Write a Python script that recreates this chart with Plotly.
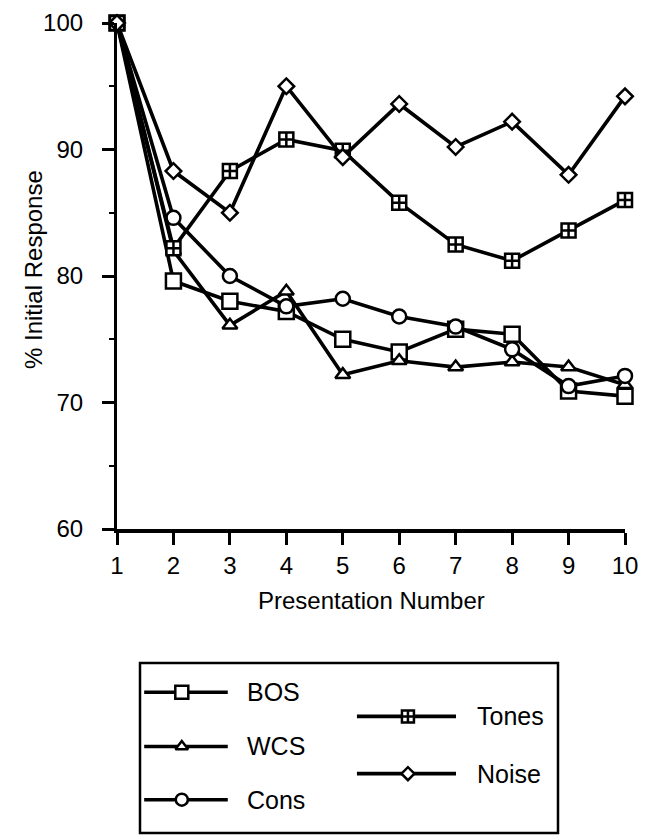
import plotly.graph_objects as go

# Presentation number (x) and % initial response for each stimulus class
presentation = [1, 2, 3, 4, 5, 6, 7, 8, 9, 10]
bos = [100, 79.6, 78.0, 77.2, 75.0, 74.0, 75.8, 75.4, 70.9, 70.5]
wcs = [100, 82.0, 76.1, 78.8, 72.2, 73.3, 72.8, 73.2, 72.8, 71.4]
cons = [100, 84.6, 80.0, 77.6, 78.2, 76.8, 76.0, 74.2, 71.3, 72.1]
tones = [100, 82.2, 88.3, 90.8, 89.9, 85.8, 82.5, 81.2, 83.6, 86.0]
noise = [100, 88.3, 85.0, 95.0, 89.4, 93.6, 90.2, 92.2, 88.0, 94.2]

y_ticks = [60, 70, 80, 90, 100]
x_ticks = presentation

W, H = 655, 835
FONT = "Liberation Sans, Arial, Helvetica, sans-serif"
LW = 3.6

series = [
    ("BOS", bos, "square", 15),
    ("WCS", wcs, "triangle-up", 13),
    ("Cons", cons, "circle", 14),
    ("Tones", tones, "square-cross", 14),
    ("Noise", noise, "diamond", 12),
]

fig = go.Figure()
for name, vals, sym, size in series:
    fig.add_trace(go.Scatter(
        x=presentation, y=vals, mode="lines+markers", name=name,
        line=dict(color="black", width=LW),
        marker=dict(symbol=sym, size=size, color="white",
                    line=dict(color="black", width=2.5)),
        cliponaxis=False, showlegend=False,
    ))

# Hand-built key in its own box (second axis pair, unit ranges)
key_rows = [
    ("BOS", "square", 13, 0.01, 0.21, 0.10, 0.828, 0.251),
    ("WCS", "triangle-up", 11, 0.01, 0.21, 0.10, 0.509, 0.251),
    ("Cons", "circle", 12, 0.01, 0.21, 0.10, 0.196, 0.251),
    ("Tones", "square-cross", 12, 0.519, 0.756, 0.641, 0.686, 0.801),
    ("Noise", "diamond", 10, 0.519, 0.756, 0.641, 0.349, 0.801),
]
for name, sym, size, x0, x1, xm, yk, xt in key_rows:
    fig.add_trace(go.Scatter(
        x=[x0, x1], y=[yk, yk], mode="lines", xaxis="x2", yaxis="y2",
        line=dict(color="black", width=LW), showlegend=False, hoverinfo="skip"))
    fig.add_trace(go.Scatter(
        x=[xm], y=[yk], mode="markers", xaxis="x2", yaxis="y2",
        marker=dict(symbol=sym, size=size, color="white",
                    line=dict(color="black", width=2.5)),
        showlegend=False, hoverinfo="skip"))
    fig.add_annotation(x=xt, y=yk, xref="x2", yref="y2", text=name,
                       showarrow=False, xanchor="left", yanchor="middle",
                       font=dict(family=FONT, size=25, color="black"))

fig.add_shape(type="rect", xref="x2 domain", yref="y2 domain",
              x0=0, x1=1, y0=0, y1=1, line=dict(color="black", width=2.5))

# Axis titles
fig.add_annotation(x=371 / W, y=1 - 600 / H, xref="paper", yref="paper",
                   text="Presentation Number", showarrow=False,
                   xanchor="center", yanchor="middle",
                   font=dict(family=FONT, size=24, color="black"))
fig.add_annotation(x=33 / W, y=1 - 270 / H, xref="paper", yref="paper",
                   text="% Initial Response", showarrow=False, textangle=-90,
                   xanchor="center", yanchor="middle",
                   font=dict(family=FONT, size=24, color="black"))

plot_x0, plot_x1 = 117 / W, 625 / W
plot_y0, plot_y1 = 1 - 529 / H, 1 - 23 / H

fig.update_layout(
    width=W, height=H,
    margin=dict(l=0, r=0, t=0, b=0),
    paper_bgcolor="white", plot_bgcolor="white",
    font=dict(family=FONT, size=24, color="black"),
    xaxis=dict(
        domain=[plot_x0, plot_x1], range=[1, 10], automargin=False,
        tickmode="array", tickvals=x_ticks, ticktext=[str(v) for v in x_ticks],
        ticks="outside", ticklen=12, tickwidth=2.5, tickcolor="black",
        tickfont=dict(family=FONT, size=24),
        showline=True, linecolor="black", linewidth=4,
        showgrid=False, zeroline=False,
    ),
    yaxis=dict(
        domain=[plot_y0, plot_y1], range=[60, 100], automargin=False,
        tickmode="array", tickvals=y_ticks, ticktext=[str(v) for v in y_ticks],
        ticks="outside", ticklen=12, tickwidth=2.5, tickcolor="black",
        ticklabelstandoff=14,
        tickfont=dict(family=FONT, size=24),
        minor=dict(dtick=5, ticks="outside", ticklen=5, tickwidth=1.5,
                   tickcolor="black", showgrid=False),
        showline=True, linecolor="black", linewidth=3.2,
        showgrid=False, zeroline=False,
    ),
    xaxis2=dict(domain=[140 / W, 558 / W], range=[0, 1], visible=False,
                anchor="y2", fixedrange=True),
    yaxis2=dict(domain=[1 - 833 / H, 1 - 663 / H], range=[0, 1], visible=False,
                anchor="x2", fixedrange=True),
)

fig.write_html("out.html")
